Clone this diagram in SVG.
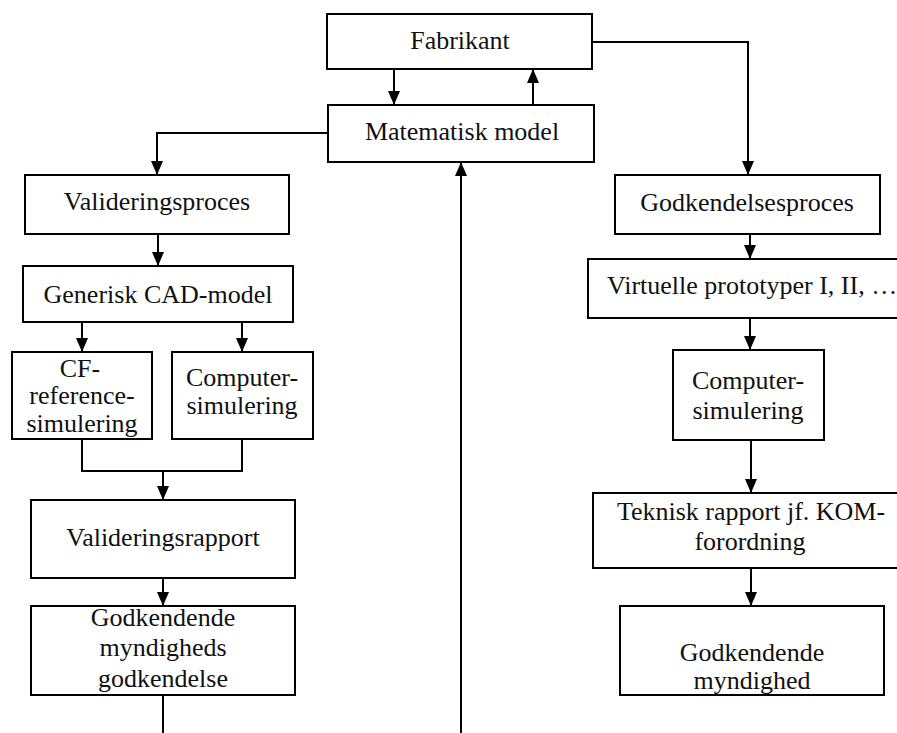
<svg xmlns="http://www.w3.org/2000/svg" width="897" height="733" viewBox="0 0 897 733">
<style>
.box{fill:#fff;stroke:#000;stroke-width:2}
.t{font-family:"Liberation Serif","Times New Roman",serif;font-size:26px;fill:#111;text-anchor:middle}
.c{fill:none;stroke:#000;stroke-width:2}
</style>
<defs>
<marker id="ah" markerUnits="userSpaceOnUse" markerWidth="14" markerHeight="12" refX="14" refY="6" orient="auto">
<path d="M0,0 L14,6 L0,12 z" fill="#000"/>
</marker>
</defs>
<rect width="897" height="733" fill="#fff"/>
<g id="connectors">
<path class="c" d="M394,69 V105" marker-end="url(#ah)"/>
<path class="c" d="M533,105 V69" marker-end="url(#ah)"/>
<path class="c" d="M592,42 H748 V175" marker-end="url(#ah)"/>
<path class="c" d="M328,133 H157 V175" marker-end="url(#ah)"/>
<path class="c" d="M158,234 V266" marker-end="url(#ah)"/>
<path class="c" d="M82,322 V352" marker-end="url(#ah)"/>
<path class="c" d="M242,322 V352" marker-end="url(#ah)"/>
<path class="c" d="M82,439 V471 H242 V439"/>
<path class="c" d="M163,471 V500" marker-end="url(#ah)"/>
<path class="c" d="M163,578 V606" marker-end="url(#ah)"/>
<path class="c" d="M163,695 V733"/>
<path class="c" d="M461,733 V162" marker-end="url(#ah)"/>
<path class="c" d="M750,234 V259" marker-end="url(#ah)"/>
<path class="c" d="M750,318 V350" marker-end="url(#ah)"/>
<path class="c" d="M751,440 V493" marker-end="url(#ah)"/>
<path class="c" d="M751,568 V606" marker-end="url(#ah)"/>
</g>
<g id="fabrikant"><rect class="box" x="327" y="14" width="265" height="55"/><text class="t" x="460" y="49">Fabrikant</text></g>
<g id="matematisk"><rect class="box" x="328" y="105" width="266" height="57"/><text class="t" x="462" y="140">Matematisk model</text></g>
<g id="valideringsproces"><rect class="box" x="25" y="175" width="264" height="59"/><text class="t" x="157" y="210">Valideringsproces</text></g>
<g id="generisk"><rect class="box" x="23" y="266" width="270" height="56"/><text class="t" x="158" y="303">Generisk CAD-model</text></g>
<g id="cf"><rect class="box" x="12" y="352" width="140" height="87"/><text class="t" x="80" y="377">CF-</text><text class="t" x="82" y="404">reference-</text><text class="t" x="82" y="432">simulering</text></g>
<g id="computer-left"><rect class="box" x="172" y="352" width="141" height="87"/><text class="t" x="242" y="386">Computer-</text><text class="t" x="242" y="414">simulering</text></g>
<g id="valideringsrapport"><rect class="box" x="31" y="500" width="264" height="78"/><text class="t" x="163" y="546">Valideringsrapport</text></g>
<g id="godkendende-left"><rect class="box" x="31" y="606" width="264" height="89"/><text class="t" x="163" y="626">Godkendende</text><text class="t" x="163" y="656">myndigheds</text><text class="t" x="163" y="687">godkendelse</text></g>
<g id="godkendelsesproces"><rect class="box" x="615" y="175" width="265" height="59"/><text class="t" x="747" y="211">Godkendelsesproces</text></g>
<g id="virtuelle"><rect class="box" x="588" y="259" width="320" height="59"/><text class="t" x="607" y="294" style="text-anchor:start">Virtuelle prototyper I, II, …</text></g>
<g id="computer-right"><rect class="box" x="673" y="350" width="151" height="90"/><text class="t" x="748" y="389">Computer-</text><text class="t" x="748" y="419">simulering</text></g>
<g id="teknisk"><rect class="box" x="593" y="493" width="310" height="75"/><text class="t" x="751" y="520">Teknisk rapport jf. KOM-</text><text class="t" x="750" y="550">forordning</text></g>
<g id="godkendende-right"><rect class="box" x="620" y="606" width="264" height="89"/><text class="t" x="752" y="661">Godkendende</text><text class="t" x="752" y="689">myndighed</text></g>
</svg>
